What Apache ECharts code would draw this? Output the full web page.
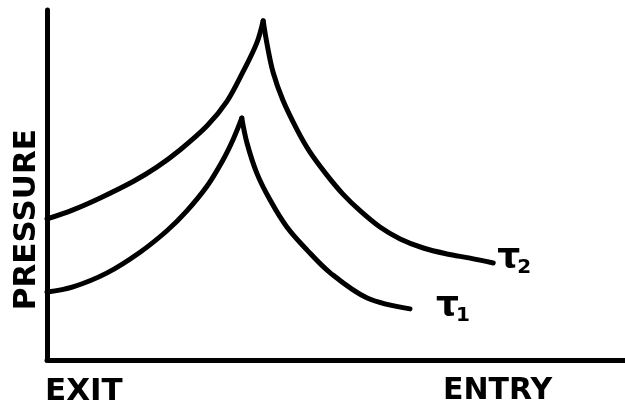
<!DOCTYPE html>
<html>
<head>
<meta charset="utf-8">
<script src="https://cdn.jsdelivr.net/npm/echarts@6/dist/echarts.min.js"></script>
<style>
  html, body { margin: 0; padding: 0; background: #fff; }
  #chart { width: 625px; height: 412px; }
</style>
</head>
<body>
<div id="chart"></div>
<script>
  // position along the roll gap (0 = exit, 100 = right edge) and pressure (0-100)
  // each curve is split at its peak so the tip stays sharp
  var tau2RiseX = [0, 4.5, 9.2, 14.9, 19.0, 23.0, 27.7, 31.1, 33.9, 36.3, 37.4]
  var tau2RiseP = [40.3, 42.9, 46.3, 51.0, 55.1, 60.0, 66.9, 73.8, 82.3, 90.6, 96.9]
  var tau2FallX = [37.4, 38.1, 39.1, 40.8, 43.3, 45.5, 48.4, 51.2, 54.2, 57.6, 61.1, 65.1, 69.2, 73.2, 77.2]
  var tau2FallP = [96.9, 90.0, 82.3, 74.3, 65.7, 59.4, 52.9, 47.4, 42.6, 38.0, 34.6, 32.0, 30.3, 29.1, 27.7]

  var tau1RiseX = [0, 4.5, 10.4, 16.1, 20.8, 24.2, 27.7, 30.4, 32.2, 33.7]
  var tau1RiseP = [19.4, 20.9, 24.9, 30.8, 37.0, 42.6, 49.7, 57.0, 63.0, 69.1]
  var tau1FallX = [33.7, 34.6, 36.3, 38.6, 41.5, 45.0, 49.0, 55.4, 62.8]
  var tau1FallP = [69.1, 62.0, 53.4, 45.7, 38.0, 31.4, 24.9, 17.7, 14.6]

  var axisLabels = ['EXIT', 'ENTRY']
  var yName = 'PRESSURE'
  var curveNames = ['2', '1']

  function pairs(xs, ys) {
    return xs.map(function (x, i) { return [x, ys[i]] })
  }

  var labelFont = 'DejaVu Sans, sans-serif'
  var stroke = { color: '#000', width: 5, cap: 'round', join: 'round' }

  function tauLabel(sub, offset) {
    return {
      show: true,
      distance: 4,
      offset: offset,
      formatter: '{t|τ}{s|' + sub + '}',
      rich: {
        t: { fontSize: 36, fontWeight: 'bold', color: '#000', fontFamily: labelFont },
        s: { fontSize: 20, fontWeight: 'bold', color: '#000', fontFamily: labelFont, padding: [18, 0, 0, -3] }
      }
    }
  }

  function curve(name, xs, ys, label) {
    var s = {
      name: name,
      type: 'line',
      smooth: 0.35,
      showSymbol: false,
      lineStyle: stroke,
      data: pairs(xs, ys)
    }
    if (label) s.endLabel = label
    return s
  }

  var chart = echarts.init(document.getElementById('chart'))
  chart.setOption({
    animation: false,
    backgroundColor: '#fff',
    grid: { left: 47, right: 0, top: 10, bottom: 52 },
    xAxis: {
      type: 'value',
      min: 0,
      max: 100,
      axisLine: { show: true, lineStyle: { color: '#000', width: 5 } },
      axisTick: { show: false },
      axisLabel: { show: false },
      splitLine: { show: false }
    },
    yAxis: {
      type: 'value',
      min: 0,
      max: 100,
      axisLine: { show: true, lineStyle: { color: '#000', width: 5 } },
      axisTick: { show: false },
      axisLabel: { show: false },
      splitLine: { show: false }
    },
    graphic: [
      {
        type: 'text', left: 45, top: 376,
        style: { text: axisLabels[0], font: 'bold 31px ' + labelFont, fill: '#000' }
      },
      {
        type: 'text', left: 443, top: 376,
        style: { text: axisLabels[1], font: 'bold 30px ' + labelFont, fill: '#000' }
      },
      {
        type: 'text', left: 11, top: 129, rotation: Math.PI / 2,
        style: { text: yName, font: 'bold 31px ' + labelFont, fill: '#000' }
      }
    ],
    series: [
      curve('rise2', tau2RiseX, tau2RiseP),
      curve(curveNames[0], tau2FallX, tau2FallP, tauLabel(curveNames[0], [0, -4])),
      curve('rise1', tau1RiseX, tau1RiseP),
      curve(curveNames[1], tau1FallX, tau1FallP, tauLabel(curveNames[1], [22, -2]))
    ]
  })
</script>
</body>
</html>
